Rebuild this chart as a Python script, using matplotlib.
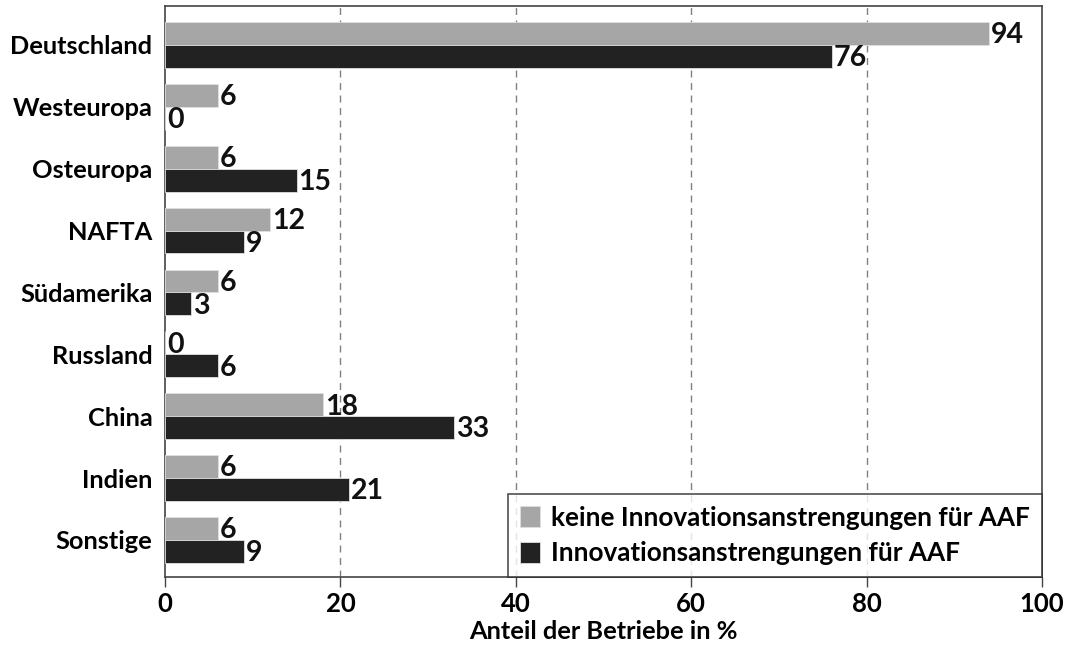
import matplotlib
matplotlib.use("Agg")
import matplotlib.pyplot as plt
import numpy as np

plt.rcParams['font.family'] = ['Lato', 'DejaVu Sans']

regions = ["Deutschland", "Westeuropa", "Osteuropa", "NAFTA", "Südamerika",
           "Russland", "China", "Indien", "Sonstige"]
keine_innovation = [94, 6, 6, 12, 6, 0, 18, 6, 6]
innovation = [76, 0, 15, 9, 3, 6, 33, 21, 9]
series_labels = ["keine Innovationsanstrengungen für AAF",
                 "Innovationsanstrengungen für AAF"]
x_ticks = [0, 20, 40, 60, 80, 100]

grey = "#a6a6a6"
dark = "#222222"

fig = plt.figure(figsize=(10.68, 6.54), dpi=100)
ax = fig.add_axes([165/1068, 1 - 577/654, (1042-165)/1068, (577-6)/654])

y = np.arange(len(regions))
h = 0.37
b1 = ax.barh(y - h/2, keine_innovation, height=h, color=grey, edgecolor="#e0e0e0",
             linewidth=0.6, label=series_labels[0], zorder=3)
b2 = ax.barh(y + h/2, innovation, height=h, color=dark, edgecolor="#e0e0e0",
             linewidth=0.6, label=series_labels[1], zorder=3)

for bars, vals in ((b1, keine_innovation), (b2, innovation)):
    for rect, v in zip(bars, vals):
        ax.text(v + 0.2, rect.get_y() + rect.get_height()/2 + 0.03, str(v),
                va="center", ha="left", fontsize=20.5, fontweight="bold",
                color="#111111", zorder=4)

ax.set_xlim(0, 100)
ax.set_ylim(len(regions) - 0.4, -0.63)
ax.set_xticks(x_ticks)
ax.set_xticklabels([str(t) for t in x_ticks], fontsize=18.5, fontweight="bold")
ax.set_yticks(y)
ax.set_yticklabels(regions, fontsize=18.3, fontweight="bold")
ax.tick_params(axis="y", length=0, pad=9)
ax.tick_params(axis="x", length=7, width=1, color="#444444", pad=4)
ax.set_xlabel("Anteil der Betriebe in %", fontsize=18.3, fontweight="bold", labelpad=3)

for v in x_ticks[1:-1]:
    ax.axvline(v, color="#808080", linestyle=(0, (5, 4)), linewidth=1, zorder=1)

for s in ax.spines.values():
    s.set_color("#444444")
    s.set_linewidth(1.2)

leg = ax.legend(loc="lower right", frameon=True, fancybox=False,
                borderaxespad=0, handlelength=0.75, handleheight=0.85,
                handletextpad=0.45, borderpad=0.45, labelspacing=0.45,
                prop={"weight": "bold", "size": 18.8})
leg.get_frame().set_edgecolor("#222222")
leg.get_frame().set_linewidth(1.2)

fig.savefig("out.png", dpi=100)
